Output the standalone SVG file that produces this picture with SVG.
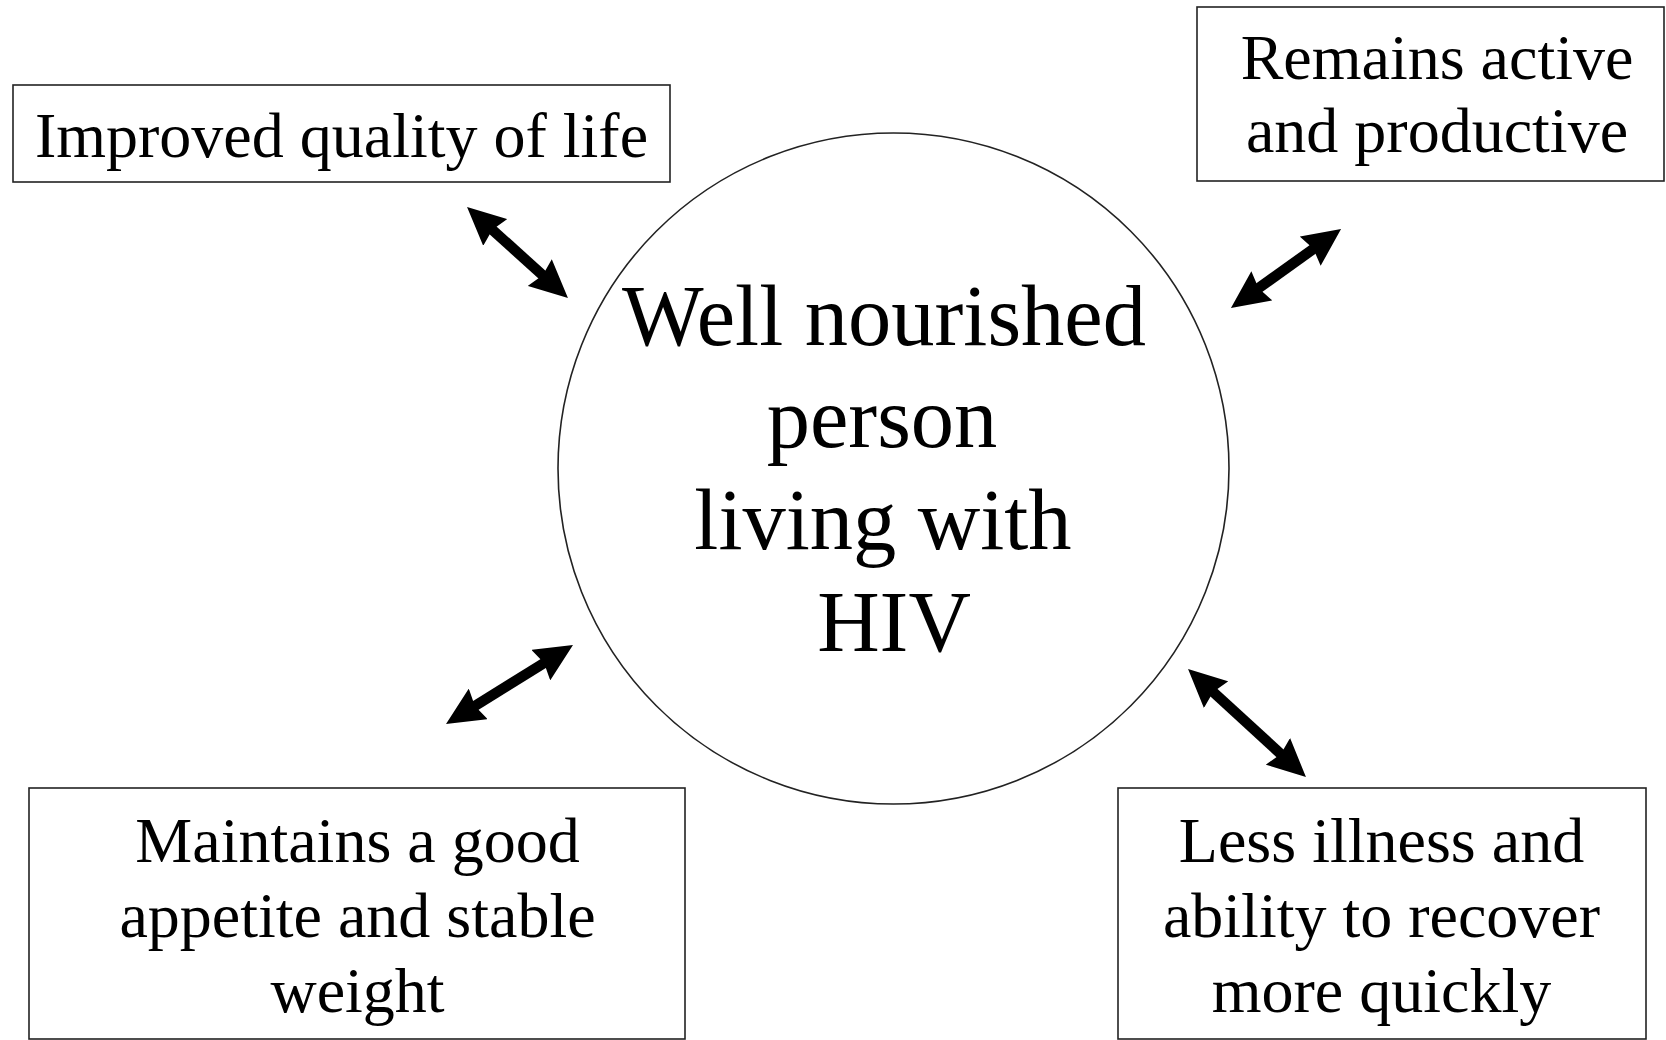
<svg xmlns="http://www.w3.org/2000/svg" width="1666" height="1040" viewBox="0 0 1666 1040">
<style>
.box{fill:#fff;stroke:#222;stroke-width:1.6}
.hub{fill:#fff;stroke:#222;stroke-width:1.6}
.t{font-family:"Liberation Serif","Times New Roman",serif;font-size:64px;fill:#000;text-anchor:middle}
.tc{font-family:"Liberation Serif","Times New Roman",serif;font-size:86.5px;fill:#000;text-anchor:middle}
.conn{stroke:#000;stroke-width:10.5;fill:none;marker-start:url(#head);marker-end:url(#head)}
</style>
<defs>
<marker id="head" markerUnits="userSpaceOnUse" markerWidth="38" markerHeight="36" viewBox="0 0 38 36" refX="18" refY="18" orient="auto-start-reverse">
<path d="M0,0 L38,18 L0,36 L4,18 Z" fill="#000"/>
</marker>
</defs>
<rect width="1666" height="1040" fill="#fff"/>
<g id="connectors">
<line class="conn" x1="481.9" y1="220.4" x2="553.1" y2="284.6"/>
<line class="conn" x1="1247.2" y1="296.3" x2="1324.8" y2="240.7"/>
<line class="conn" x1="463" y1="713.4" x2="556" y2="655.6"/>
<line class="conn" x1="1202.8" y1="682.5" x2="1291.2" y2="763.5"/>
</g>
<g id="hub">
<circle class="hub" cx="893.5" cy="468.5" r="335.5"/>
<text class="tc" x="884" y="345">Well nourished</text>
<text class="tc" x="882" y="447">person</text>
<text class="tc" x="883" y="549">living with</text>
<text class="tc" x="894" y="651">HIV</text>
</g>
<g id="quality">
<rect class="box" x="13" y="85" width="657" height="97"/>
<text class="t" x="341.5" y="157">Improved quality of life</text>
</g>
<g id="active">
<rect class="box" x="1197" y="7" width="467" height="174"/>
<text class="t" x="1437" y="79">Remains active</text>
<text class="t" x="1437" y="152">and productive</text>
</g>
<g id="appetite">
<rect class="box" x="29" y="788" width="656" height="251"/>
<text class="t" x="357.5" y="862">Maintains a good</text>
<text class="t" x="357.5" y="937">appetite and stable</text>
<text class="t" x="357.5" y="1012">weight</text>
</g>
<g id="illness">
<rect class="box" x="1118" y="788" width="528" height="251"/>
<text class="t" x="1381.5" y="862">Less illness and</text>
<text class="t" x="1381.5" y="937">ability to recover</text>
<text class="t" x="1381.5" y="1012">more quickly</text>
</g>
</svg>
